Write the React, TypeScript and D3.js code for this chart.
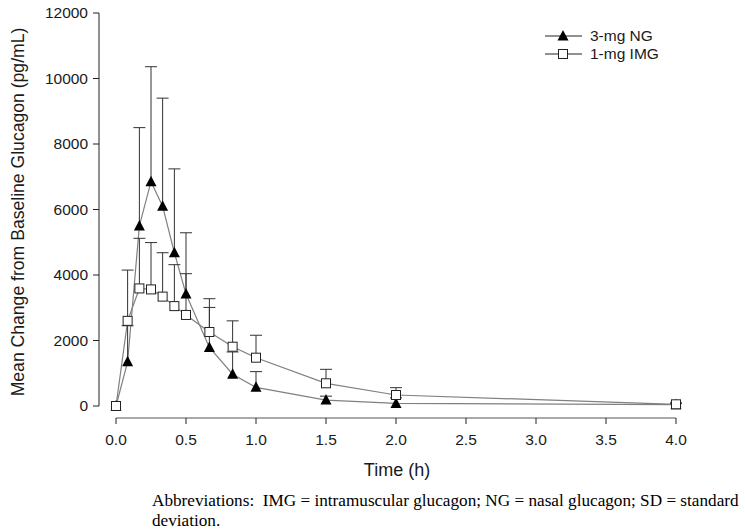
import React from 'react'
import * as d3 from 'd3'

// time points (h)
const times = [0, 0.083, 0.167, 0.25, 0.333, 0.417, 0.5, 0.667, 0.833, 1.0, 1.5, 2.0, 4.0]
// 3-mg NG
const ngMean = [0, 1350, 5500, 6850, 6100, 4680, 3420, 1790, 970, 570, 180, 80, 40]
const ngSD = [0, 1100, 3000, 3510, 3300, 2560, 1870, 1220, 680, 480, 120, 170, 30]
// 1-mg IMG
const imgMean = [0, 2600, 3590, 3560, 3340, 3050, 2780, 2260, 1810, 1475, 693, 336, 52]
const imgSD = [0, 1550, 1530, 1430, 1340, 1265, 1260, 1016, 790, 685, 427, 224, 48]

const xTicks = [0, 0.5, 1, 1.5, 2, 2.5, 3, 3.5, 4]
const yTicks = [0, 2000, 4000, 6000, 8000, 10000, 12000]

const legendLabels = ['3-mg NG', '1-mg IMG']

const W = 745
const H = 531

export default function App() {
	const x = d3.scaleLinear().domain([0, 4]).range([116, 676])
	const y = d3.scaleLinear().domain([0, 12000]).range([406, 13])

	const line = d3.line<number>()
		.x((d, i) => x(times[i]))
		.y(d => y(d))

	const font = '"Liberation Sans", Arial, sans-serif'
	const lineColor = '#808080'
	const errColor = '#333'
	const capHalf = 6

	const errorBars = (mean: number[], sd: number[], key: string) =>
		mean.map((m, i) => {
			if (sd[i] <= 0) return null
			const cx = x(times[i])
			const top = y(m + sd[i])
			return (
				<g key={`${key}-${i}`} stroke={errColor} strokeWidth={1}>
					<line x1={cx} x2={cx} y1={y(m)} y2={top} />
					<line x1={cx - capHalf} x2={cx + capHalf} y1={top} y2={top} />
				</g>
			)
		})

	const tri = (cx: number, cy: number, s: number) =>
		`M${cx},${cy - s * 0.6}L${cx + s * 0.55},${cy + s * 0.45}L${cx - s * 0.55},${cy + s * 0.45}Z`

	return (
		<svg width={W} height={H} style={{position: 'absolute', left: 0, top: 0, background: '#fff'}}>
			{/* y axis */}
			<g fontFamily={font} fontSize={15.5} fill="#1a1a1a">
				<line x1={99} x2={99} y1={y(12000)} y2={y(0)} stroke="#222" />
				{yTicks.map(t => (
					<g key={`yt-${t}`}>
						<line x1={93} x2={99} y1={y(t)} y2={y(t)} stroke="#222" />
						<text x={88} y={y(t)} dy="0.35em" textAnchor="end">{t}</text>
					</g>
				))}
			</g>
			{/* x axis */}
			<g fontFamily={font} fontSize={15.5} fill="#1a1a1a">
				<line x1={x(0)} x2={x(4)} y1={418} y2={418} stroke="#555" />
				{xTicks.map(t => (
					<g key={`xt-${t}`}>
						<line x1={x(t)} x2={x(t)} y1={418} y2={424} stroke="#222" />
						<text x={x(t)} y={440} dy="0.35em" textAnchor="middle">{t.toFixed(1)}</text>
					</g>
				))}
			</g>
			<text x={397} y={476} textAnchor="middle" fontFamily={font} fontSize={18} fill="#1a1a1a">Time (h)</text>
			<text transform={`translate(24,212) rotate(-90)`} textAnchor="middle" fontFamily={font} fontSize={17.6} fill="#1a1a1a">
				Mean Change from Baseline Glucagon (pg/mL)
			</text>

			{/* lines */}
			<path d={line(ngMean) || ''} fill="none" stroke={lineColor} strokeWidth={1.2} />
			<path d={line(imgMean) || ''} fill="none" stroke={lineColor} strokeWidth={1.2} />

			{errorBars(ngMean, ngSD, 'ng')}
			{errorBars(imgMean, imgSD, 'img')}

			{/* markers */}
			{ngMean.map((m, i) => (
				<path key={`ngm-${i}`} d={tri(x(times[i]), y(m), 10)} fill="#000" />
			))}
			{imgMean.map((m, i) => (
				<rect key={`imgm-${i}`} x={x(times[i]) - 4.5} y={y(m) - 4.5} width={9} height={9}
					fill="#fff" stroke="#222" strokeWidth={1} />
			))}

			{/* legend */}
			<g fontFamily={font} fontSize={15.5} fill="#1a1a1a">
				{legendLabels.map((lab, i) => {
					const ly = 36 + i * 18
					return (
						<g key={`lg-${i}`}>
							<line x1={545} x2={582} y1={ly} y2={ly} stroke="#222" />
							{i === 0
								? <path d={tri(563, ly, 10)} fill="#000" />
								: <rect x={558.5} y={ly - 4.5} width={9} height={9} fill="#fff" stroke="#222" />}
							<text x={590} y={ly} dy="0.35em">{lab}</text>
						</g>
					)
				})}
			</g>

			{/* footnote */}
			<g fontFamily='"Liberation Serif", "Times New Roman", serif' fontSize={17.2} fill="#000">
				<text x={152} y={506} xmlSpace="preserve">Abbreviations:  IMG = intramuscular glucagon; NG = nasal glucagon; SD = standard</text>
				<text x={152} y={526}>deviation.</text>
			</g>
		</svg>
	)
}
